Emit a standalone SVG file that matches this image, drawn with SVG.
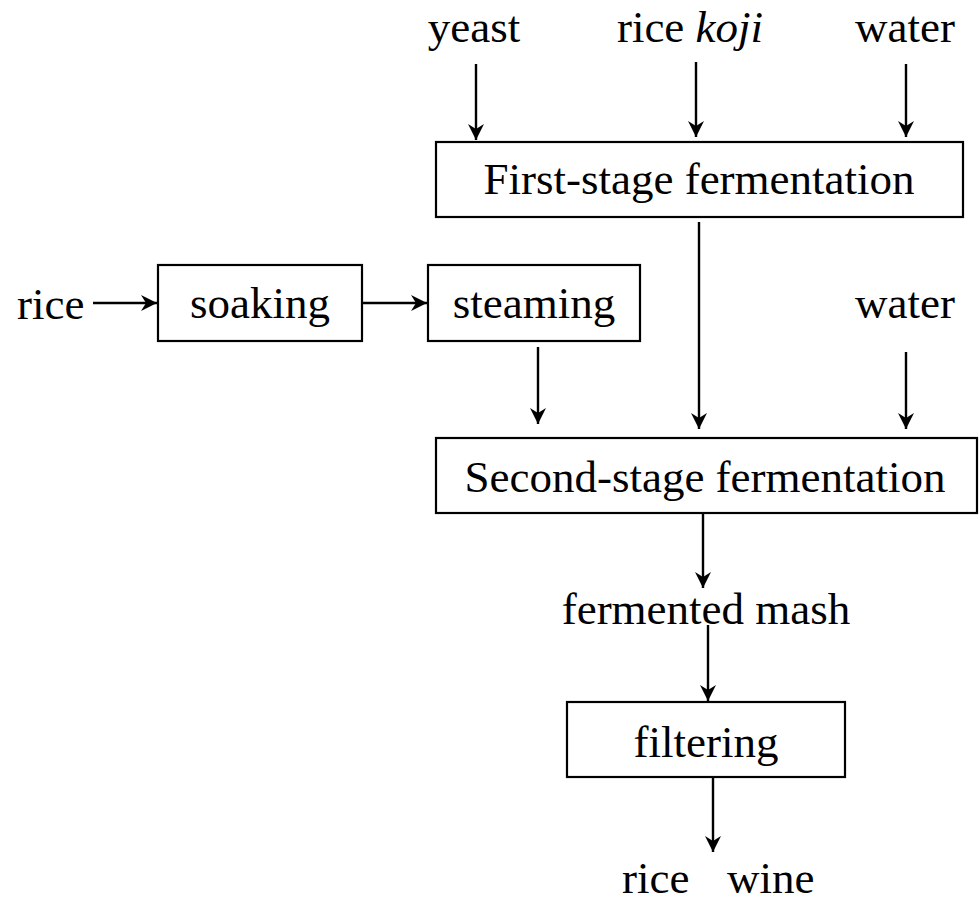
<svg xmlns="http://www.w3.org/2000/svg" width="979" height="905" viewBox="0 0 979 905">
<style>
text{font-family:"Liberation Serif","Times New Roman",serif;font-size:45px;fill:#000}
.box{fill:#fff;stroke:#000;stroke-width:2.2}
.c line{stroke:#000;stroke-width:2.4;marker-end:url(#ah)}
.m{text-anchor:middle}
</style>
<defs>
<marker id="ah" markerUnits="userSpaceOnUse" markerWidth="18" markerHeight="16" viewBox="0 0 17 16" refX="16" refY="8" orient="auto">
<path d="M0,0 L16,8 L0,16 L5,8 z" fill="#000"/>
</marker>
</defs>
<rect width="979" height="905" fill="#fff"/>
<g id="in-yeast"><text class="m" x="474" y="42">yeast</text></g>
<g id="in-koji"><text class="m" x="690" y="42">rice <tspan font-style="italic">koji</tspan></text></g>
<g id="in-water1"><text class="m" x="905" y="42">water</text></g>
<g id="first"><rect class="box" x="436" y="142" width="527" height="75"/><text class="m" x="699" y="194">First-stage fermentation</text></g>
<g id="in-rice"><text x="17" y="319">rice</text></g>
<g id="soaking"><rect class="box" x="158" y="265" width="204" height="76"/><text class="m" x="260" y="318">soaking</text></g>
<g id="steaming"><rect class="box" x="428" y="265" width="212" height="76"/><text class="m" x="534" y="318">steaming</text></g>
<g id="in-water2"><text class="m" x="905" y="318">water</text></g>
<g id="second"><rect class="box" x="436" y="438" width="541" height="75"/><text class="m" x="705" y="492">Second-stage fermentation</text></g>
<g id="mash"><text class="m" x="706" y="624">fermented mash</text></g>
<g id="filtering"><rect class="box" x="567" y="702" width="278" height="75"/><text class="m" x="706" y="757">filtering</text></g>
<g id="out-wine"><text y="893"><tspan x="622">rice</tspan><tspan x="727">wine</tspan></text></g>
<g id="connectors" class="c">
<line x1="476" y1="64" x2="476" y2="140"/>
<line x1="696" y1="62" x2="696" y2="137"/>
<line x1="906" y1="64" x2="906" y2="137"/>
<line x1="93" y1="303" x2="157" y2="303"/>
<line x1="362" y1="303" x2="427" y2="303"/>
<line x1="699" y1="222" x2="699" y2="429"/>
<line x1="538" y1="347" x2="538" y2="424"/>
<line x1="906" y1="352" x2="906" y2="429"/>
<line x1="703" y1="513" x2="703" y2="588"/>
<line x1="708" y1="625" x2="708" y2="701"/>
<line x1="713" y1="777" x2="713" y2="852"/>
</g>
</svg>
